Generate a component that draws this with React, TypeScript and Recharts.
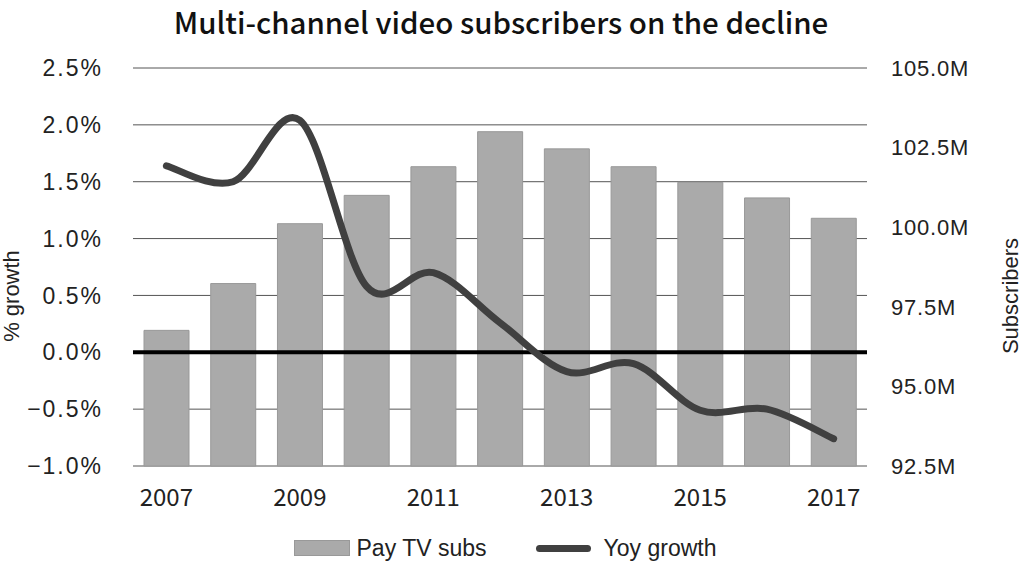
import {
  ComposedChart,
  Bar,
  Line,
  XAxis,
  YAxis,
  CartesianGrid,
  ReferenceLine,
  Legend,
} from "recharts";

const years = ["2007", "2008", "2009", "2010", "2011", "2012", "2013", "2014", "2015", "2016", "2017"];
// Pay TV subscribers, millions
const payTvSubs = [96.76, 98.23, 100.11, 101.0, 101.9, 103.0, 102.46, 101.9, 101.41, 100.92, 100.28];
// year over year growth, %
const yoyGrowth = [1.64, 1.5, 2.04, 0.58, 0.7, 0.26, -0.17, -0.1, -0.51, -0.5, -0.76];

const growthTicks = [-1, -0.5, 0, 0.5, 1, 1.5, 2, 2.5];
const subsTicks = [92.5, 95, 97.5, 100, 102.5, 105];

const data = years.map((year, i) => ({
  year,
  subs: payTvSubs[i],
  growth: yoyGrowth[i],
}));

const FONT = "'Liberation Sans', Arial, sans-serif";
const NARROW = "'Noto Sans CJK KR', 'DejaVu Sans Condensed', sans-serif";

const fmtPct = (v: number) => (v < 0 ? "\u2212" : "") + Math.abs(v).toFixed(1) + "%";
const fmtSubs = (v: number) => v.toFixed(1) + "M";

// smoothed line like the spreadsheet "smoothed line" option (catmull-rom style bezier)
function smoothCurve(context: any) {
  let xs: number[] = [];
  let ys: number[] = [];
  return {
    areaStart() {},
    areaEnd() {},
    lineStart() {
      xs = [];
      ys = [];
    },
    point(x: number, y: number) {
      xs.push(+x);
      ys.push(+y);
    },
    lineEnd() {
      const n = xs.length;
      if (!n) return;
      context.moveTo(xs[0], ys[0]);
      for (let i = 0; i < n - 1; i++) {
        const a = Math.max(i - 1, 0);
        const d = Math.min(i + 2, n - 1);
        context.bezierCurveTo(
          xs[i] + (xs[i + 1] - xs[a]) / 6,
          ys[i] + (ys[i + 1] - ys[a]) / 6,
          xs[i + 1] - (xs[d] - xs[i]) / 6,
          ys[i + 1] - (ys[d] - ys[i]) / 6,
          xs[i + 1],
          ys[i + 1]
        );
      }
    },
  };
}

function ChartLegend() {
  return (
    <div
      style={{
        display: "flex",
        justifyContent: "center",
        alignItems: "center",
        height: 40,
        paddingTop: 14,
        paddingRight: 14,
        boxSizing: "border-box",
        fontFamily: FONT,
        fontSize: 23,
        color: "#222",
      }}
    >
      <div style={{ width: 56, height: 16, background: "#aaaaaa", border: "1px solid #999", boxSizing: "border-box" }} />
      <span style={{ marginLeft: 7 }}>Pay TV subs</span>
      <div
        style={{
          width: 55,
          height: 7,
          borderRadius: 4,
          background: "#404040",
          marginLeft: 49,
        }}
      />
      <span style={{ marginLeft: 13 }}>Yoy growth</span>
    </div>
  );
}

export default function App() {
  return (
    <div style={{ position: "absolute", left: 0, top: 0, width: 1024, height: 561, background: "#fff" }}>
      <div
        style={{
          position: "absolute",
          top: 0,
          left: 0,
          width: 1024,
          paddingRight: 22,
          boxSizing: "border-box",
          textAlign: "center",
          fontFamily: NARROW,
          fontWeight: 500,
          fontSize: 29.5,
          lineHeight: "normal",
          color: "#111",
        }}
      >
        Multi-channel video subscribers on the decline
      </div>
      <div
        style={{
          position: "absolute",
          left: 12,
          top: 296,
          transform: "translate(-50%, -50%) rotate(-90deg)",
          fontFamily: FONT,
          fontSize: 22,
          color: "#222",
          whiteSpace: "nowrap",
        }}
      >
        % growth
      </div>
      <div
        style={{
          position: "absolute",
          left: 1011,
          top: 296,
          transform: "translate(-50%, -50%) rotate(-90deg)",
          fontFamily: FONT,
          fontSize: 22,
          color: "#222",
          whiteSpace: "nowrap",
        }}
      >
        Subscribers
      </div>
      <ComposedChart
        width={1024}
        height={561}
        data={data}
        margin={{ top: 68, right: 0, bottom: 0, left: 0 }}
      >
        <CartesianGrid yAxisId="left" vertical={false} stroke="#555" strokeWidth={1} />
        <XAxis
          dataKey="year"
          interval={1}
          axisLine={false}
          tickLine={false}
          height={55}
          tickMargin={17}
          tick={{ fontFamily: NARROW, fontSize: 24, fill: "#222" }}
        />
        <YAxis
          yAxisId="left"
          orientation="left"
          width={133}
          domain={[-1, 2.5]}
          ticks={growthTicks}
          tickFormatter={fmtPct}
          axisLine={false}
          tickLine={false}
          tickMargin={24}
          tick={{ fontFamily: FONT, fontSize: 23, fill: "#222", letterSpacing: 2 }}
        />
        <YAxis
          yAxisId="right"
          orientation="right"
          width={157}
          domain={[92.5, 105]}
          ticks={subsTicks}
          tickFormatter={fmtSubs}
          axisLine={false}
          tickLine={false}
          tickMargin={18}
          tick={{ fontFamily: FONT, fontSize: 22, fill: "#222", textAnchor: "start", letterSpacing: 0.8 }}
        />
        <Bar
          yAxisId="right"
          dataKey="subs"
          name="Pay TV subs"
          barSize={45}
          fill="#aaaaaa"
          stroke="#999"
          strokeWidth={1}
          isAnimationActive={false}
        />
        <ReferenceLine yAxisId="left" y={0} stroke="#000" strokeWidth={4} />
        <Line
          yAxisId="left"
          dataKey="growth"
          name="Yoy growth"
          type={smoothCurve as any}
          stroke="#404040"
          strokeWidth={7}
          strokeLinecap="round"
          dot={false}
          activeDot={false}
          isAnimationActive={false}
        />
        <Legend verticalAlign="bottom" height={40} content={() => <ChartLegend />} />
      </ComposedChart>
    </div>
  );
}
